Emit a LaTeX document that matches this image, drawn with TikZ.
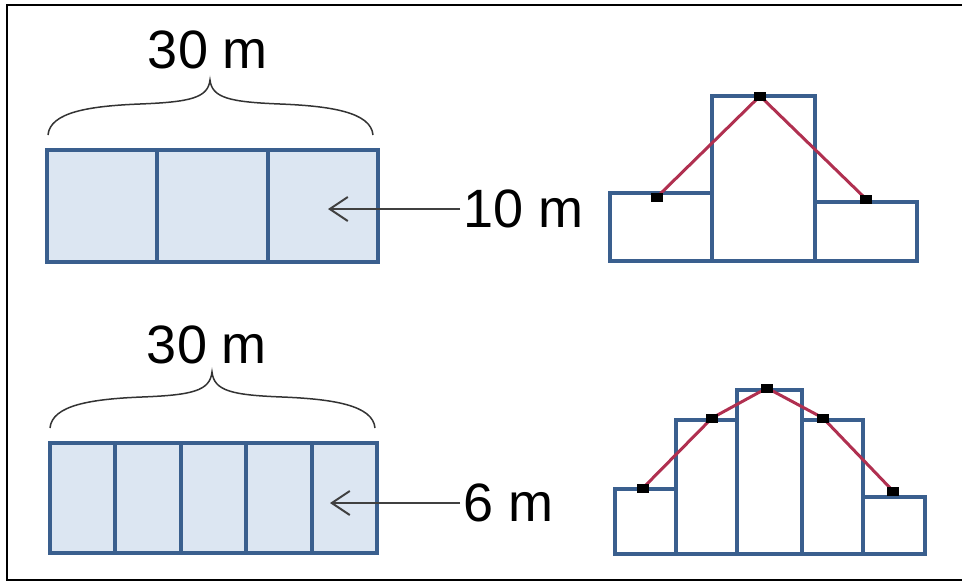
\documentclass[tikz,border=0pt]{standalone}
\usepackage{fontspec}
\setmainfont{Liberation Sans}
\usetikzlibrary{arrows.meta, positioning}

\definecolor{cellfill}{RGB}{220,230,242}
\definecolor{celledge}{RGB}{58,95,142}
\definecolor{trendline}{RGB}{176,48,80}

\begin{document}
\begin{tikzpicture}[
      x=1pt, y=-1pt,
      cell/.style={draw=celledge, fill=cellfill, line width=4pt, outer sep=0pt, inner sep=0pt, anchor=north west},
      bar/.style={draw=celledge, line width=4pt, outer sep=0pt, inner sep=0pt, anchor=south west},
      marker/.style={fill=black, inner sep=0pt, minimum width=12pt, minimum height=9pt},
      sizelabel/.style={font=\fontsize{54}{60}\selectfont, inner sep=0pt},
      pointer/.style={draw=black!75, line width=2pt, -{Straight Barb[length=18pt, width=24pt]}},
      trend/.style={draw=trendline, line width=3pt}
    ]
      \useasboundingbox (0,0) rectangle (962,582);
      \draw[line width=2.5pt] (975,5) -- (7,5) -- (7,580) -- (975,580);

      % upper strip: three cells
      \foreach \i in {0,1,2}
        \node[cell, minimum width=110.3pt, minimum height=112pt] (up\i) at ({47+110.3*\i},150) {};
      \draw[line width=1.5pt, black!80] (48,135) .. controls (50,112) and (90,106) .. (140,104)
        .. controls (190,102) and (208,98) .. (210,80)
        .. controls (212,98) and (230,102) .. (280,104)
        .. controls (330,106) and (371,112) .. (373,135);
      \node[sizelabel, anchor=base] (uplen) at (208,68) {30 m};
      \node[sizelabel, anchor=west, inner sep=3pt] (upw) at (460,209) {10 m};
      \coordinate (uptip) at (328,209);
      \draw[pointer] (upw.west) -- (uptip);

      % upper histogram
      \foreach \x/\w/\h/\n in {610/102/68/1, 712/103/165/2, 815/102/59/3}
        \node[bar, minimum width=\w pt, minimum height=\h pt] (uh\n) at (\x,261) {};
      \node[marker] (um1) at (657,197) {};
      \node[marker] (um2) at (760,96) {};
      \node[marker] (um3) at (866,199) {};
      \draw[trend] (um1.center) -- (um2.center) -- (um3.center);
      \foreach \n in {1,2,3} \node[marker] at (um\n) {};

      % lower strip: five cells
      \foreach \i in {0,1,2,3,4}
        \node[cell, minimum width=65.4pt, minimum height=110pt] (lo\i) at ({50+65.4*\i},443) {};
      \draw[line width=1.5pt, black!80] (50,428) .. controls (52,405) and (92,399) .. (142,397)
        .. controls (192,395) and (210,391) .. (212,372)
        .. controls (214,391) and (232,395) .. (282,397)
        .. controls (332,399) and (373,405) .. (375,428);
      \node[sizelabel, anchor=base] (lolen) at (207,363) {30 m};
      \node[sizelabel, anchor=west, inner sep=3pt] (low) at (460,503) {6 m};
      \coordinate (lotip) at (330,503);
      \draw[pointer] (low.west) -- (lotip);

      % lower histogram
      \foreach \x/\w/\h/\n in {615/61/65/1, 676/61/134/2, 737/65/164/3, 802/61/134/4, 863/62/57/5}
        \node[bar, minimum width=\w pt, minimum height=\h pt] (lh\n) at (\x,554) {};
      \node[marker] (lm1) at (643,488) {};
      \node[marker] (lm2) at (712,418) {};
      \node[marker] (lm3) at (767,388) {};
      \node[marker] (lm4) at (823,418) {};
      \node[marker] (lm5) at (893,491) {};
      \draw[trend] (lm1.center) -- (lm2.center) -- (lm3.center) -- (lm4.center) -- (lm5.center);
      \foreach \n in {1,...,5} \node[marker] at (lm\n) {};
    \end{tikzpicture}
\end{document}
